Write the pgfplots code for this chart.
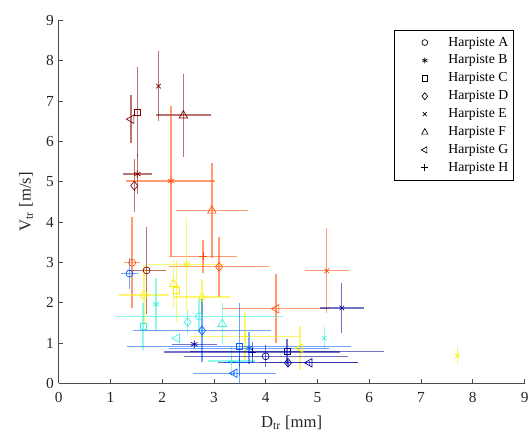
\documentclass[border=0pt]{standalone}
\usepackage{pgfplots}
\pgfplotsset{compat=1.18}
\usepackage{pgfplotstable}
\usepackage{fontspec}
\setmainfont{Liberation Serif}
\usetikzlibrary{calc}

\definecolor{cdred}{RGB}{128,0,0}
\definecolor{corange}{RGB}{255,75,0}
\definecolor{cyellow}{RGB}{250,240,0}
\definecolor{ccyan}{RGB}{60,240,220}
\definecolor{cblue}{RGB}{0,90,255}
\definecolor{cnavy}{RGB}{0,0,150}

% MATLAB-like hollow marks
\pgfdeclareplotmark{mtri}{%
  \pgfpathmoveto{\pgfqpoint{0pt}{\pgfplotmarksize}}%
  \pgfpathlineto{\pgfqpoint{-0.9\pgfplotmarksize}{-0.6\pgfplotmarksize}}%
  \pgfpathlineto{\pgfqpoint{0.9\pgfplotmarksize}{-0.6\pgfplotmarksize}}%
  \pgfpathclose\pgfusepathqstroke}
\pgfdeclareplotmark{mtril}{%
  \pgfpathmoveto{\pgfqpoint{-\pgfplotmarksize}{0pt}}%
  \pgfpathlineto{\pgfqpoint{0.6\pgfplotmarksize}{0.9\pgfplotmarksize}}%
  \pgfpathlineto{\pgfqpoint{0.6\pgfplotmarksize}{-0.9\pgfplotmarksize}}%
  \pgfpathclose\pgfusepathqstroke}
\pgfdeclareplotmark{mdia}{%
  \pgfpathmoveto{\pgfqpoint{0pt}{\pgfplotmarksize}}%
  \pgfpathlineto{\pgfqpoint{0.8\pgfplotmarksize}{0pt}}%
  \pgfpathlineto{\pgfqpoint{0pt}{-\pgfplotmarksize}}%
  \pgfpathlineto{\pgfqpoint{-0.8\pgfplotmarksize}{0pt}}%
  \pgfpathclose\pgfusepathqstroke}

% h = harpiste, x/y = D_tr, V_tr, ex/ey = half error bars
\pgfplotstableread{
h x ex y ey
A 1.70 0.38 2.80 1.08
B 1.52 0.28 5.19 0.50
C 1.52 0 6.73 1.12
D 1.46 0 4.90 0.66
E 1.93 0 7.37 0.87
F 2.41 0.53 6.65 1.03
G 1.40 0 6.55 0.60
}\tabdred

\pgfplotstableread{
h x ex y ey
A 1.42 0.15 2.99 1.13
B 2.17 0.86 5.02 1.86
D 3.10 0.97 2.89 0.75
E 5.18 0.43 2.79 1.05
F 2.96 0.70 4.29 1.17
G 4.20 1.05 1.85 0.85
H 2.79 0.65 3.15 0.41
}\taborange

\pgfplotstableread{
h x ex y ey
A 1.65 0.48 2.19 0.75
B 2.47 0.75 2.95 1.15
C 2.28 0 2.30 0.77
D 2.77 0.55 2.14 0.45
E 7.70 0 0.69 0.24
F 2.22 0 2.47 0.60
G 4.66 0 0.87 0.54
H 3.60 1.06 1.16 0.58
}\tabyellow

\pgfplotstableread{
h x ex y ey
A 2.71 1.63 1.66 0.42
B 1.88 0 1.96 0.66
C 1.63 0 1.41 0.59
D 2.49 0 1.52 0.30
E 5.13 0 1.12 0.28
F 3.16 0 1.48 0.50
G 2.28 0 1.12 0
H 3.34 0.45 0.55 0.38
}\tabcyan

\pgfplotstableread{
h x ex y ey
A 1.37 0.17 2.72 0.39
B 3.68 1.55 0.87 0.40
C 3.49 2.16 0.91 1.07
D 2.77 1.33 1.31 0.78
G 3.39 0.80 0.25 0.05
H 3.49 0.30 0.52 0.35
}\tabblue

\pgfplotstableread{
h x ex y ey
A 4.00 1.58 0.67 0.27
B 2.62 0.43 0.97 0.05
C 4.41 1.87 0.79 0.30
D 4.43 1.35 0.51 0.08
E 5.47 0.42 1.87 0.63
G 4.84 0.95 0.51 0.05
H 3.74 1.70 0.78 0.25
}\tabnavy

\pgfplotsset{
  harp/.style={
    only marks, scatter, scatter src=explicit symbolic, forget plot,
    color=#1,
    mark options={solid, fill=none, draw=#1, line width=0.5pt},
    scatter/classes={
      A={mark=o, mark size=2.6pt},
      B={mark=asterisk, mark size=2.8pt},
      C={mark=square, mark size=2.3pt},
      D={mark=mdia, mark size=3.3pt},
      E={mark=x, mark size=2.4pt},
      F={mark=mtri, mark size=3.5pt},
      G={mark=mtril, mark size=3.5pt},
      H={mark=+, mark size=3pt}},
    error bars/.cd, x dir=both, x explicit, y dir=both, y explicit,
    error mark=none,
    error bar style={line width=1pt, opacity=0.55, draw=#1},
  },
  leg/.style={black, only marks, mark size=2.2pt,
    mark options={solid, fill=none, line width=0.5pt},
    legend image code/.code={
      \path[draw=none] (-0.72cm,0) -- (0.55cm,0);
      \draw[##1] plot coordinates {(0cm,0cm)};}},
}

\begin{document}
\begin{tikzpicture}
\begin{axis}[
  scale only axis,
  width=349.5pt, height=272.2pt,
  xmin=0, xmax=9, ymin=0, ymax=9,
  xtick={0,...,9}, ytick={0,...,9},
  axis x line*=bottom, axis y line*=left,
  axis line style={black!70, line width=0.5pt, -},
  tick align=inside, major tick length=3.5pt,
  tick style={black!70, line width=0.5pt},
  /pgf/number format/assume math mode=true,
  tick label style={font=\fontsize{11.5}{13}\selectfont, black!85},
  xticklabel style={yshift=-3pt},
  label style={font=\fontsize{12.5}{14}\selectfont, black!85},
  xlabel={D\textsubscript{tr} [mm]},
  xlabel style={yshift=-3pt},
  ylabel={V\textsubscript{tr} [m/s]},
  ylabel style={yshift=3pt},
  legend style={at={(rel axis cs:0.977,0.9735)}, anchor=north east,
    draw=black, line width=0.5pt, fill=white,
    font=\fontsize{10.3}{12}\selectfont, row sep=1.1pt,
    inner xsep=2pt, inner ysep=3pt},
  legend cell align=left,
]
\addplot[harp=cdred] table[x=x, y=y, x error=ex, y error=ey, meta=h] {\tabdred};
\addplot[harp=corange] table[x=x, y=y, x error=ex, y error=ey, meta=h] {\taborange};
\addplot[harp=cyellow] table[x=x, y=y, x error=ex, y error=ey, meta=h] {\tabyellow};
\addplot[harp=ccyan] table[x=x, y=y, x error=ex, y error=ey, meta=h] {\tabcyan};
\addplot[harp=cblue] table[x=x, y=y, x error=ex, y error=ey, meta=h] {\tabblue};
\addplot[harp=cnavy] table[x=x, y=y, x error=ex, y error=ey, meta=h] {\tabnavy};

\addlegendimage{leg, mark=o}
\addlegendimage{leg, mark=asterisk}
\addlegendimage{leg, mark=square, mark size=1.9pt}
\addlegendimage{leg, mark=mdia, mark size=2.6pt}
\addlegendimage{leg, mark=x}
\addlegendimage{leg, mark=mtri, mark size=2.6pt}
\addlegendimage{leg, mark=mtril, mark size=2.6pt}
\addlegendimage{leg, mark=+, mark size=2.6pt}
\legend{Harpiste A, Harpiste B, Harpiste C, Harpiste D, Harpiste E, Harpiste F, Harpiste G, Harpiste H}
\end{axis}
\pgfresetboundingbox
\path ($(current axis.south west)+(-43.95pt,-38pt)$) rectangle ($(current axis.north east)+(4.8pt,15.3pt)$);
\end{tikzpicture}
\end{document}
